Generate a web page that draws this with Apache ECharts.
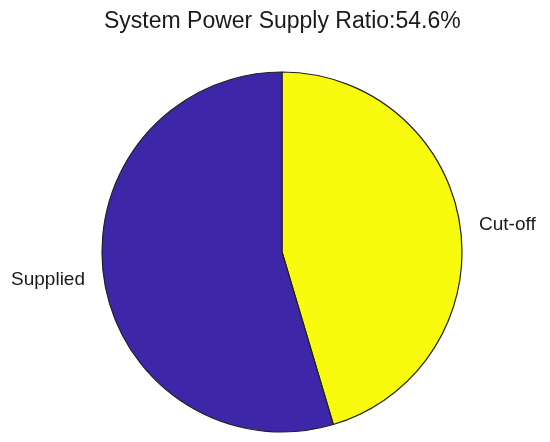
<!DOCTYPE html>
<html>
<head>
<meta charset="utf-8">
<script src="https://cdn.jsdelivr.net/npm/echarts@6/dist/echarts.min.js"></script>
<style>
  html, body { margin: 0; padding: 0; background: #fff; }
  #pie-ratio { width: 550px; height: 442px; }
</style>
</head>
<body>
<div id="pie-ratio"></div>
<script>
// slice names and shares (%), clockwise from 12 o'clock
const names = ["Cut-off", "Supplied"];
const values = [45.4, 54.6];
const colors = ["#F9FB0E", "#3E26A8"];
const titleText = "System Power Supply Ratio:54.6%";

const myChart = echarts.init(document.getElementById("pie-ratio"));

let option = {
  backgroundColor: "#ffffff",
  animation: false,
  title: {
    text: titleText,
    left: 99,
    top: 5,
    textStyle: {
      color: "#1a1a1a",
      fontFamily: "Liberation Sans",
      fontSize: 23,
      fontWeight: "normal"
    }
  },
  series: [
    {
      type: "pie",
      center: [282, 252],
      radius: 180,
      startAngle: 90,
      clockwise: true,
      data: names.map((n, i) => ({
        name: n,
        value: values[i],
        itemStyle: { color: colors[i] }
      })),
      itemStyle: {
        borderColor: "#222",
        borderWidth: 1.2
      },
      label: {
        show: true,
        position: "outside",
        formatter: "{b}",
        color: "#1a1a1a",
        fontFamily: "Liberation Sans",
        fontSize: 19
      },
      labelLine: {
        show: false,
        length: 10,
        length2: 4
      },
      emphasis: { disabled: true }
    }
  ]
};
myChart.setOption(option);
</script>
</body>
</html>
